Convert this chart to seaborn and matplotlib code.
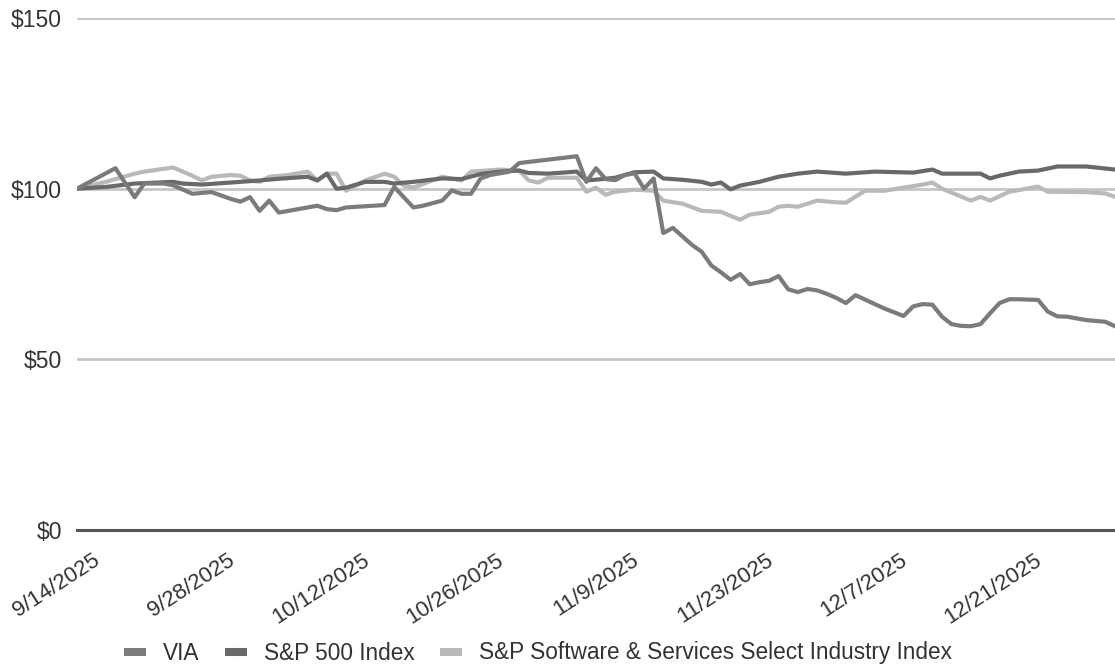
import matplotlib
matplotlib.use("Agg")
import matplotlib.pyplot as plt
from matplotlib.lines import Line2D
from matplotlib.transforms import ScaledTranslation
import pandas as pd
import seaborn as sns

sns.set_theme(style="white")
plt.rcParams["font.family"] = ["Liberation Sans", "DejaVu Sans"]

# Growth of a $100 investment
via_dates = [
    "2025-09-14", "2025-09-16", "2025-09-18", "2025-09-20", "2025-09-21", "2025-09-23",
    "2025-09-24", "2025-09-26", "2025-09-28", "2025-09-30", "2025-10-01", "2025-10-02",
    "2025-10-03", "2025-10-04", "2025-10-05", "2025-10-08", "2025-10-09", "2025-10-10",
    "2025-10-11", "2025-10-12", "2025-10-16", "2025-10-17", "2025-10-19", "2025-10-20",
    "2025-10-22", "2025-10-23", "2025-10-24", "2025-10-25", "2025-10-26", "2025-10-27",
    "2025-10-29", "2025-10-30", "2025-11-02", "2025-11-05", "2025-11-06", "2025-11-07",
    "2025-11-08", "2025-11-09", "2025-11-10", "2025-11-11", "2025-11-12", "2025-11-13",
    "2025-11-14", "2025-11-15", "2025-11-16", "2025-11-17", "2025-11-18", "2025-11-19",
    "2025-11-20", "2025-11-21", "2025-11-22", "2025-11-23", "2025-11-24", "2025-11-25",
    "2025-11-26", "2025-11-27", "2025-11-28", "2025-11-29", "2025-11-30", "2025-12-01",
    "2025-12-02", "2025-12-03", "2025-12-04", "2025-12-05", "2025-12-06", "2025-12-07",
    "2025-12-08", "2025-12-09", "2025-12-10", "2025-12-11", "2025-12-12", "2025-12-13",
    "2025-12-14", "2025-12-15", "2025-12-16", "2025-12-17", "2025-12-18", "2025-12-19",
    "2025-12-20", "2025-12-21", "2025-12-22", "2025-12-23", "2025-12-24", "2025-12-25",
    "2025-12-26", "2025-12-28", "2025-12-30", "2025-12-31",
]
via_values = [
    100, 103, 106, 97.5, 101.5, 101.5,
    101, 98.5, 99, 97, 96.2, 97.5,
    93.5, 96.5, 93, 94.5, 95, 94,
    93.7, 94.5, 95.2, 100.5, 94.5, 95,
    96.5, 99.5, 98.5, 98.5, 103, 104,
    105, 107.5, 108.5, 109.5, 102, 106,
    102.8, 102.5, 104, 104.5, 100, 103,
    87, 88.5, 86, 83.5, 81.5, 77.5,
    75.5, 73.3, 75, 72, 72.6, 73,
    74.4, 70.5, 69.7, 70.6, 70.2, 69.2,
    68, 66.5, 68.8, 67.5, 66.2, 64.9,
    63.8, 62.7, 65.5, 66.2, 66, 62.5,
    60.3, 59.8, 59.7, 60.3, 63.5, 66.5,
    67.6, 67.6, 67.5, 67.4, 64, 62.6,
    62.5, 61.5, 61, 59.7,
]

sp500_dates = [
    "2025-09-14", "2025-09-17", "2025-09-20", "2025-09-24", "2025-09-25", "2025-09-27",
    "2025-09-30", "2025-10-03", "2025-10-05", "2025-10-08", "2025-10-09", "2025-10-10",
    "2025-10-11", "2025-10-12", "2025-10-14", "2025-10-16", "2025-10-17", "2025-10-19",
    "2025-10-22", "2025-10-24", "2025-10-26", "2025-10-28", "2025-10-30", "2025-10-31",
    "2025-11-02", "2025-11-05", "2025-11-06", "2025-11-08", "2025-11-09", "2025-11-11",
    "2025-11-13", "2025-11-14", "2025-11-16", "2025-11-18", "2025-11-19", "2025-11-20",
    "2025-11-21", "2025-11-22", "2025-11-24", "2025-11-26", "2025-11-28", "2025-11-30",
    "2025-12-03", "2025-12-06", "2025-12-10", "2025-12-12", "2025-12-13", "2025-12-17",
    "2025-12-18", "2025-12-19", "2025-12-21", "2025-12-23", "2025-12-25", "2025-12-28",
    "2025-12-31",
]
sp500_values = [
    100, 100.5, 101.5, 102, 101.5, 101.2,
    101.8, 102.4, 102.9, 103.5, 102.4, 104.4,
    100, 100.3, 102, 102, 101.5, 102,
    103, 102.8, 104.3, 105, 105.3, 104.6,
    104.4, 105, 102.4, 102.9, 103.2, 104.8,
    105, 103, 102.6, 102, 101.2, 101.8,
    99.8, 100.9, 102, 103.5, 104.4, 105,
    104.4, 105, 104.7, 105.6, 104.4, 104.4,
    103, 103.8, 105, 105.3, 106.5, 106.5,
    105.6,
]

software_dates = [
    "2025-09-14", "2025-09-17", "2025-09-20", "2025-09-21", "2025-09-24", "2025-09-25",
    "2025-09-26", "2025-09-27", "2025-09-28", "2025-09-30", "2025-10-01", "2025-10-02",
    "2025-10-03", "2025-10-04", "2025-10-06", "2025-10-08", "2025-10-09", "2025-10-10",
    "2025-10-11", "2025-10-12", "2025-10-14", "2025-10-16", "2025-10-17", "2025-10-18",
    "2025-10-19", "2025-10-22", "2025-10-24", "2025-10-25", "2025-10-28", "2025-10-30",
    "2025-10-31", "2025-11-01", "2025-11-02", "2025-11-05", "2025-11-06", "2025-11-07",
    "2025-11-08", "2025-11-09", "2025-11-11", "2025-11-13", "2025-11-14", "2025-11-16",
    "2025-11-18", "2025-11-20", "2025-11-22", "2025-11-23", "2025-11-25", "2025-11-26",
    "2025-11-27", "2025-11-28", "2025-11-30", "2025-12-02", "2025-12-03", "2025-12-05",
    "2025-12-07", "2025-12-09", "2025-12-11", "2025-12-12", "2025-12-13", "2025-12-16",
    "2025-12-17", "2025-12-18", "2025-12-20", "2025-12-23", "2025-12-24", "2025-12-28",
    "2025-12-30", "2025-12-31",
]
software_values = [
    100, 102, 104.4, 105, 106.2, 105,
    103.8, 102.4, 103.5, 104, 103.8, 102.4,
    102, 103.5, 104, 105, 102.4, 104.4,
    104.4, 99.4, 102.4, 104.4, 103.5, 100.9,
    100.3, 103.5, 102.4, 105, 105.6, 105.3,
    102.4, 101.8, 103.2, 103.2, 99.1, 100.3,
    98.2, 99.1, 99.7, 99.4, 96.5, 95.6,
    93.5, 93.2, 90.9, 92.4, 93.2, 94.7,
    95, 94.7, 96.5, 96, 95.9, 99.4,
    99.4, 100.3, 101.2, 101.8, 100, 96.5,
    97.6, 96.5, 99.1, 100.6, 99.1, 99,
    98.6, 97.6,
]

series_names = ["VIA", "S&P 500 Index", "S&P Software & Services Select Industry Index"]
series_colors = ["#7b7b7e", "#69696c", "#b9b9bb"]

y_ticks = [0, 50, 100, 150]
y_tick_labels = ["$0", "$50", "$100", "$150"]
x_tick_dates = ["2025-09-14", "2025-09-28", "2025-10-12", "2025-10-26",
                "2025-11-09", "2025-11-23", "2025-12-07", "2025-12-21"]
x_tick_labels = ["9/14/2025", "9/28/2025", "10/12/2025", "10/26/2025",
                 "11/9/2025", "11/23/2025", "12/7/2025", "12/21/2025"]
x_start, x_end = "2025-09-14", "2025-12-31"

frames = [
    pd.DataFrame({"date": pd.to_datetime(d), "value": v, "series": n})
    for n, d, v in zip(series_names,
                       [via_dates, sp500_dates, software_dates],
                       [via_values, sp500_values, software_values])
]
palette = dict(zip(series_names, series_colors))

W, H = 1115, 667
fig = plt.figure(figsize=(W / 100, H / 100), dpi=100)
ax = fig.add_axes([77 / W, 1 - 530 / H, 1 - 77 / W, (530 - 18) / H])

# draw the indexes first so the fund line sits on top
for frame, z in zip(reversed(frames), [3, 4, 5]):
    name = frame["series"].iloc[0]
    sns.lineplot(data=frame, x="date", y="value", ax=ax, color=palette[name],
                 linewidth=3.0, legend=False, zorder=z)

ax.set_xlim(pd.Timestamp(x_start), pd.Timestamp(x_end))
ax.set_ylim(0, 150)
ax.set_xlabel("")
ax.set_ylabel("")

ax.set_yticks(y_ticks)
ax.set_yticklabels(y_tick_labels)
ax.set_xticks(pd.to_datetime(x_tick_dates))
ax.set_xticklabels(x_tick_labels)

ax.set_axisbelow(True)
ax.yaxis.grid(True, color="#c6c6c6", linewidth=2.0)
ax.xaxis.grid(False)
for side in ["top", "right", "left"]:
    ax.spines[side].set_visible(False)
ax.spines["bottom"].set_color("#555555")
ax.spines["bottom"].set_linewidth(2.2)
ax.spines["bottom"].set_zorder(6)

ax.tick_params(axis="y", length=0, pad=11, labelsize=16.5, labelcolor="#333333")
ax.tick_params(axis="x", length=0, pad=14, labelsize=16, labelcolor="#333333")
shift = ScaledTranslation(27 / 100, 0, fig.dpi_scale_trans)
for lab in ax.get_xticklabels():
    lab.set_rotation(33)
    lab.set_ha("right")
    lab.set_va("top")
    lab.set_transform(lab.get_transform() + shift)

handles = [Line2D([0], [0], color=c, linewidth=5.8, solid_capstyle="butt")
           for c in series_colors]
leg = fig.legend(handles, series_names, loc="center",
                 bbox_to_anchor=(538 / W, 1 - 653 / H), ncol=3, frameon=False,
                 fontsize=16.3, handlelength=1.0, handletextpad=0.75,
                 columnspacing=1.1, borderaxespad=0)
for t in leg.get_texts():
    t.set_color("#333333")

fig.savefig("out.png", dpi=100, facecolor="white")
